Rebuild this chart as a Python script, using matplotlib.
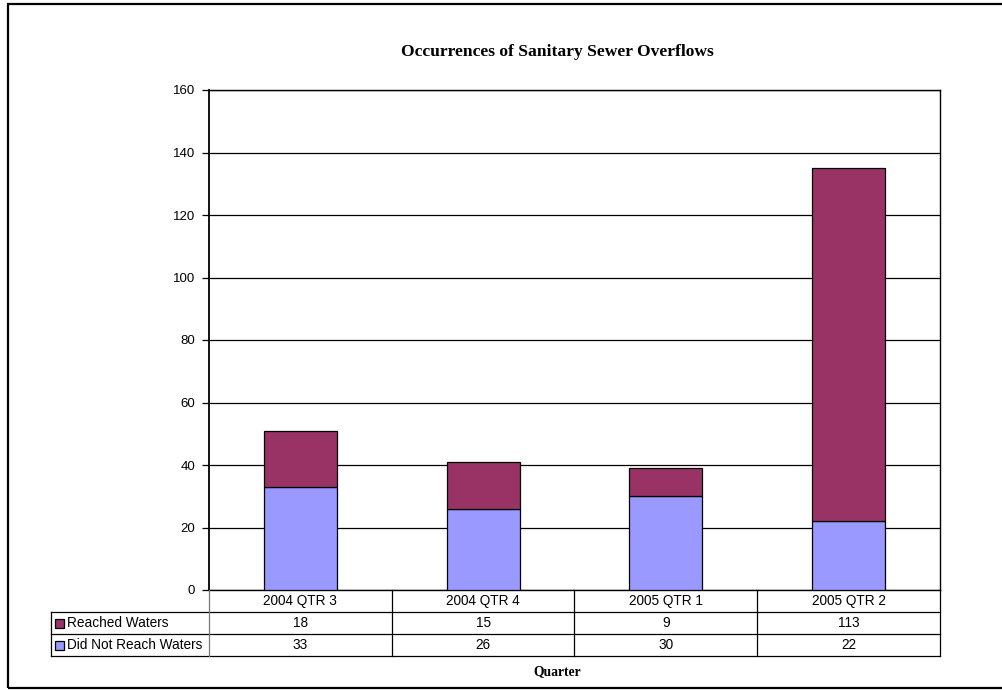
import numpy as np
import matplotlib.pyplot as plt
from matplotlib.patches import Rectangle
from matplotlib.lines import Line2D

# quarterly counts of sanitary sewer overflows
quarters = ['2004 QTR 3', '2004 QTR 4', '2005 QTR 1', '2005 QTR 2']
reached = [18, 15, 9, 113]
not_reached = [33, 26, 30, 22]
series_names = ['Reached Waters', 'Did Not Reach Waters']
c_reached = '#993366'
c_not = '#9999FF'

W, H = 1003, 690
fig = plt.figure(figsize=(W / 100, H / 100), dpi=100)

def fx(px):
    return px / W

def fy(py):
    return 1 - py / H

# plot area in pixel terms
L, R, T, B = 209, 940, 90, 590
ax = fig.add_axes([fx(L), fy(B), fx(R) - fx(L), fy(T) - fy(B)])

x = np.arange(len(quarters))
ax.bar(x, not_reached, width=0.4, color=c_not, edgecolor='black', linewidth=0.9, zorder=3)
ax.bar(x, reached, width=0.4, bottom=not_reached, color=c_reached, edgecolor='black',
       linewidth=0.9, zorder=3)

ax.set_xlim(-0.5, len(quarters) - 0.5)
ax.set_ylim(0, 160)
ax.set_yticks(range(0, 161, 20))
ax.yaxis.grid(True, color='black', linewidth=0.9)
ax.set_axisbelow(True)
ax.set_xticks([])
for s in ax.spines.values():
    s.set_color('black')
    s.set_linewidth(1.0)
ax.spines['left'].set_linewidth(1.3)
ax.tick_params(axis='y', length=5, width=0.9, direction='out', pad=5,
               labelsize=9.5, labelfontfamily='Liberation Sans')

fig.text(fx(557), fy(55.5), 'Occurrences of Sanitary Sewer Overflows',
         ha='center', va='baseline', family='Liberation Serif', weight='bold', fontsize=12.6)

# data table under the plot
rows = [B, 612, 634, 656]
tl = 51
lw = 0.9
def hline(y, x0, x1, color='black'):
    fig.add_artist(Line2D([fx(x0), fx(x1)], [fy(y), fy(y)], color=color, lw=lw))
def vline(xp, y0, y1, color='black'):
    fig.add_artist(Line2D([fx(xp), fx(xp)], [fy(y0), fy(y1)], color=color, lw=lw))

hline(rows[1], tl, R)
hline(rows[2], tl, R)
hline(rows[3], tl, R)
vline(tl, rows[1], rows[3])
vline(L, B, rows[3], color='#777777')
vline(R, B, rows[3])
colw = (R - L) / len(quarters)
for i in range(1, len(quarters)):
    vline(L + i * colw, B, rows[3])

tfont = dict(family='Liberation Sans', fontsize=9.8, va='center')
for i, q in enumerate(quarters):
    cx = L + (i + 0.5) * colw
    fig.text(fx(cx), fy((rows[0] + rows[1]) / 2), q, ha='center', **tfont)
    fig.text(fx(cx), fy((rows[1] + rows[2]) / 2), str(reached[i]), ha='center', **tfont)
    fig.text(fx(cx), fy((rows[2] + rows[3]) / 2), str(not_reached[i]), ha='center', **tfont)

for r, (name, col) in enumerate(zip(series_names, [c_reached, c_not])):
    yc = (rows[r + 1] + rows[r + 2]) / 2
    fig.add_artist(Rectangle((fx(55), fy(yc + 4.5)), fx(9), fy(0) - fy(9),
                             facecolor=col, edgecolor='black', lw=0.9))
    fig.text(fx(67), fy(yc), name, ha='left', **tfont)

fig.text(fx(557.5), fy(672), 'Quarter', ha='center', va='center',
         family='Liberation Serif', weight='bold', fontsize=9.8)

# outer chart border (right edge runs past the image)
fig.add_artist(Rectangle((fx(8), fy(688)), fx(1010) - fx(8), fy(4) - fy(688),
                         fill=False, edgecolor='black', lw=1.6))

fig.savefig('out.png', dpi=100)
